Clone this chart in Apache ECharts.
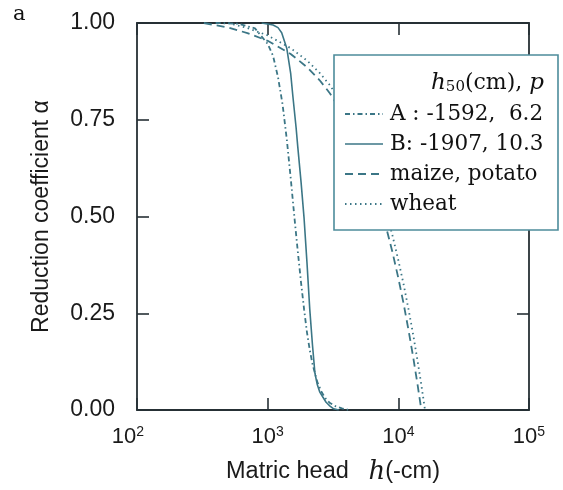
<!DOCTYPE html>
<html>
<head>
<meta charset="utf-8">
<script src="https://cdn.jsdelivr.net/npm/echarts@6/dist/echarts.min.js"></script>
<style>
  html, body { margin: 0; padding: 0; background: #ffffff; }
  #chart { width: 563px; height: 490px; }
</style>
</head>
<body>
<div id="chart"></div>
<script>
// Matric head h (-cm) and reduction coefficient alpha for each curve
const hA = [400, 600, 800, 1000, 1100, 1200, 1300, 1400, 1500, 1600, 1700, 1800, 1900, 2000, 2100, 2200, 2300, 2400, 2600, 2800, 3000, 3300, 3700, 4200];
const alphaA = [1.0, 0.998, 0.986, 0.946, 0.915, 0.86, 0.79, 0.70, 0.60, 0.50, 0.41, 0.33, 0.26, 0.20, 0.155, 0.12, 0.095, 0.072, 0.045, 0.028, 0.018, 0.010, 0.004, 0.0];

const hB = [900, 1100, 1200, 1280, 1400, 1500, 1560, 1650, 1700, 1800, 1900, 2000, 2100, 2200, 2300, 2400, 2500, 2650, 2800, 3000, 3200, 3500];
const alphaB = [1.0, 0.995, 0.988, 0.975, 0.935, 0.87, 0.81, 0.73, 0.68, 0.59, 0.495, 0.38, 0.26, 0.17, 0.095, 0.065, 0.047, 0.033, 0.020, 0.010, 0.003, 0.0];

const hMaize = [325, 500, 700, 1000, 1500, 2000, 2500, 3000, 4000, 5000, 6000, 7000, 8000, 9000, 10000, 11000, 12000, 13000, 14000, 15000];
const alphaMaize = [1.0, 0.988, 0.974, 0.954, 0.920, 0.886, 0.852, 0.818, 0.750, 0.681, 0.613, 0.545, 0.477, 0.409, 0.341, 0.273, 0.204, 0.136, 0.068, 0.0];

const hWheat = [500, 700, 1000, 1500, 2000, 2500, 3000, 4000, 5000, 6000, 7000, 8000, 9000, 10000, 11000, 12000, 13000, 14000, 15000, 16000];
const alphaWheat = [1.0, 0.987, 0.968, 0.935, 0.903, 0.871, 0.839, 0.774, 0.710, 0.645, 0.581, 0.516, 0.452, 0.387, 0.323, 0.258, 0.194, 0.129, 0.065, 0.0];

// Legend rows
const legendHeader = ['h', '50', '(cm), ', 'p'];
const legendLabels = ['A : -1592,  6.2', 'B: -1907, 10.3', 'maize, potato', 'wheat'];

// Axis ranges
const xMin = 100, xMax = 100000;
const yMin = 0, yMax = 1, yStep = 0.25;

const zip = (xs, ys) => xs.map((x, i) => [x, ys[i]]);

const lineColor = '#3b7686';
const frameColor = '#263035';
const sans = 'Liberation Sans, Arial, sans-serif';
const serif = 'DejaVu Serif, serif';

const dashDot = [5, 3, 1.5, 3];
const dashed = [8, 5];
const dotted = [1.5, 3.5];

const chart = echarts.init(document.getElementById('chart'), null, { renderer: 'canvas' });

const tickStyle = { show: true, inside: true, length: 12, lineStyle: { color: frameColor, width: 1.6 } };
const axisLineStyle = { show: true, onZero: false, lineStyle: { color: frameColor, width: 1.8 } };

const legendX0 = 345, legendX1 = 383;
const legendRowY = [114, 144, 174, 204];
const legendDash = [dashDot, 'solid', dashed, dotted];

const graphics = [
  {
    type: 'text', left: 13, top: 4, z: 100,
    style: { text: 'a', font: '21px ' + serif, fill: '#111' }
  },
  {
    type: 'rect', z: 100,
    shape: { x: 334, y: 55, width: 224, height: 175 },
    style: { fill: '#ffffff', stroke: '#4d8c9b', lineWidth: 1.6 }
  },
  {
    type: 'text', z: 101, x: 544, y: 83,
    style: {
      text: '{i|' + legendHeader[0] + '}{s|' + legendHeader[1] + '}{n|' + legendHeader[2] + '}{i|' + legendHeader[3] + '}',
      align: 'right', verticalAlign: 'middle',
      rich: {
        i: { font: 'italic 23px ' + serif, fill: '#111' },
        s: { font: '15px ' + serif, fill: '#111', verticalAlign: 'bottom', lineHeight: 20 },
        n: { font: '22px ' + serif, fill: '#111' }
      }
    }
  }
];

legendLabels.forEach((label, i) => {
  const dash = legendDash[i];
  graphics.push({
    type: 'line', z: 101,
    shape: { x1: legendX0, y1: legendRowY[i], x2: legendX1, y2: legendRowY[i] },
    style: { stroke: lineColor, lineWidth: dash === 'solid' ? 1.6 : 1.8, lineDash: dash === 'solid' ? null : dash }
  });
  graphics.push({
    type: 'text', z: 101, x: 390, y: legendRowY[i],
    style: { text: label, font: '21.5px ' + serif, fill: '#111', verticalAlign: 'middle' }
  });
});

const option = {
  backgroundColor: '#ffffff',
  animation: false,
  grid: { left: 137, right: 34, top: 23, bottom: 74, containLabel: false },
  xAxis: [
    {
      type: 'log', logBase: 10, min: xMin, max: xMax, position: 'bottom',
      axisLine: axisLineStyle, axisTick: tickStyle, splitLine: { show: false }, minorTick: { show: false },
      axisLabel: {
        margin: 15,
        formatter: function (v) {
          const e = Math.round(Math.log10(v));
          return '{b|10}{s|' + e + '}' + (v === xMin ? '{pad| }' : '');
        },
        rich: {
          b: { fontSize: 22, fontFamily: sans, color: '#1a1a1a', lineHeight: 24 },
          s: { fontSize: 14, fontFamily: sans, color: '#1a1a1a', lineHeight: 14, verticalAlign: 'top' },
          pad: { width: 18, fontSize: 14 }
        }
      },
      name: '{t|Matric head   }{h|h}{t|(-cm)}',
      nameLocation: 'middle', nameGap: 48,
      nameTextStyle: {
        rich: {
          t: { fontSize: 23.5, fontFamily: sans, color: '#1a1a1a', lineHeight: 28 },
          h: { fontSize: 26, fontFamily: serif, fontStyle: 'italic', color: '#1a1a1a', lineHeight: 28 }
        }
      }
    },
    {
      type: 'log', logBase: 10, min: xMin, max: xMax, position: 'top',
      axisLine: axisLineStyle, axisTick: tickStyle, axisLabel: { show: false }, splitLine: { show: false }
    }
  ],
  yAxis: [
    {
      type: 'value', min: yMin, max: yMax, interval: yStep, position: 'left',
      axisLine: axisLineStyle, axisTick: tickStyle, splitLine: { show: false },
      axisLabel: {
        margin: 22, fontSize: 23, fontFamily: sans, color: '#1a1a1a',
        formatter: v => v.toFixed(2)
      },
      name: 'Reduction coefficient α',
      nameLocation: 'middle', nameGap: 84, nameRotate: 90,
      nameTextStyle: { fontSize: 23, fontFamily: sans, color: '#1a1a1a' }
    },
    {
      type: 'value', min: yMin, max: yMax, interval: yStep, position: 'right',
      axisLine: axisLineStyle, axisTick: tickStyle, axisLabel: { show: false }, splitLine: { show: false }
    }
  ],
  series: [
    { name: 'A', type: 'line', data: zip(hA, alphaA), showSymbol: false, z: 3,
      lineStyle: { color: lineColor, width: 1.8, type: dashDot } },
    { name: 'B', type: 'line', data: zip(hB, alphaB), showSymbol: false, z: 4,
      lineStyle: { color: lineColor, width: 1.6, type: 'solid' } },
    { name: 'maize, potato', type: 'line', data: zip(hMaize, alphaMaize), showSymbol: false, z: 3,
      lineStyle: { color: lineColor, width: 1.8, type: dashed } },
    { name: 'wheat', type: 'line', data: zip(hWheat, alphaWheat), showSymbol: false, z: 3,
      lineStyle: { color: lineColor, width: 1.8, type: dotted } }
  ],
  graphic: { elements: graphics }
};

chart.setOption(option);
</script>
</body>
</html>
